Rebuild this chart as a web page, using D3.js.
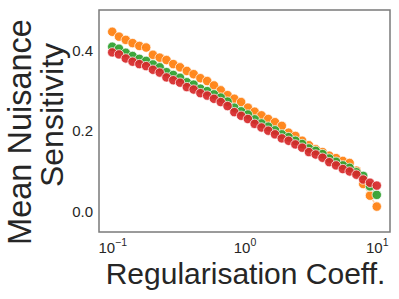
<!DOCTYPE html>
<html><head><meta charset="utf-8">
<script src="https://cdn.jsdelivr.net/npm/d3@7"></script>
<style>body{margin:0;background:#fff}svg{display:block}text{font-family:"Liberation Sans",Arial,sans-serif;fill:#262626}</style>
</head><body><svg id="c" width="399" height="299"></svg>
<script>
const nPoints = 40;
const coeffs = d3.range(nPoints).map(i => Math.pow(10, -1 + 2 * i / (nPoints - 1)));
const seriesOrange = [0.446,0.434,0.426,0.418,0.411,0.407,0.389,0.382,0.376,0.366,0.358,0.349,0.341,0.331,0.324,0.313,0.301,0.289,0.280,0.272,0.258,0.248,0.239,0.230,0.222,0.213,0.196,0.188,0.176,0.165,0.155,0.148,0.139,0.133,0.126,0.121,0.102,0.069,0.040,0.013];
const seriesGreen = [0.409,0.404,0.394,0.386,0.379,0.374,0.365,0.358,0.346,0.339,0.332,0.321,0.315,0.305,0.299,0.291,0.283,0.273,0.258,0.249,0.241,0.229,0.219,0.211,0.202,0.192,0.185,0.176,0.168,0.157,0.151,0.143,0.132,0.124,0.115,0.109,0.098,0.089,0.063,0.042];
const seriesRed = [0.395,0.390,0.380,0.372,0.366,0.361,0.352,0.345,0.333,0.326,0.320,0.309,0.303,0.294,0.288,0.280,0.272,0.262,0.247,0.238,0.230,0.218,0.209,0.201,0.192,0.182,0.176,0.167,0.159,0.148,0.142,0.134,0.123,0.115,0.106,0.100,0.092,0.080,0.072,0.065];
const yTicks = [0.0, 0.2, 0.4];
const xTicks = [0.1, 1, 10];
const xTickExp = ["\u22121", "0", "1"];
const colors = ["#ff7f0e", "#2ca02c", "#d62728"];
const seriesList = [seriesOrange, seriesGreen, seriesRed];

const svg = d3.select("#c");
const L = 99, R = 390, T = 10, B = 232;
const x = d3.scaleLog().domain([Math.pow(10, -1.1), Math.pow(10, 1.1)]).range([L, R]);
const y = d3.scaleLinear().domain([-0.05, 0.5]).range([B, T]);

// y ticks
const yAxis = d3.axisLeft(y).tickValues(yTicks).tickSize(0).tickPadding(6).tickFormat(d3.format(".1f"));
const gy = svg.append("g").attr("transform", `translate(${L},0)`).call(yAxis);
gy.select(".domain").remove();
gy.selectAll("text").style("font-size", "15px").attr("fill", "#262626").attr("font-family", "Liberation Sans, Arial, sans-serif");

// x ticks with superscripts
const xAxis = d3.axisBottom(x).tickValues(xTicks).tickSize(0).tickFormat(() => "");
const gx = svg.append("g").attr("transform", `translate(0,${B})`).call(xAxis);
gx.select(".domain").remove();
gx.selectAll(".tick").each(function(d, i) {
  const t = d3.select(this).append("text").attr("y", 21).attr("text-anchor", "middle")
    .style("font-size", "15px").attr("fill", "#262626");
  t.append("tspan").text("10");
  t.append("tspan").attr("dy", -7).style("font-size", "10.5px").text(xTickExp[i]);
});

// series
const line = d3.line().x((d, i) => x(coeffs[i])).y(d => y(d));
seriesList.forEach((s, k) => {
  svg.append("path").datum(s).attr("d", line).attr("fill", "none")
    .attr("stroke", colors[k]).attr("stroke-width", 1.5).attr("stroke-opacity", 0.35);
  svg.append("g").selectAll("circle").data(s).join("circle")
    .attr("cx", (d, i) => x(coeffs[i])).attr("cy", d => y(d)).attr("r", 4.7)
    .attr("fill", colors[k]).attr("fill-opacity", 0.92)
    .attr("stroke", "#fff").attr("stroke-width", 0.7);
});

// frame
svg.append("rect").attr("x", L).attr("y", T).attr("width", R - L).attr("height", B - T)
  .attr("fill", "none").attr("stroke", "#7a7a7a").attr("stroke-width", 1.5);

// labels
svg.append("text").attr("x", (L + R) / 2 + 1).attr("y", 284).attr("text-anchor", "middle")
  .style("font-size", "30px").text("Regularisation Coeff.");
svg.append("text").attr("transform", "translate(31,132) rotate(-90)").attr("text-anchor", "middle")
  .style("font-size", "32.5px").text("Mean Nuisance");
svg.append("text").attr("transform", "translate(63,115) rotate(-90)").attr("text-anchor", "middle")
  .style("font-size", "32px").text("Sensitivity");
</script></body></html>
